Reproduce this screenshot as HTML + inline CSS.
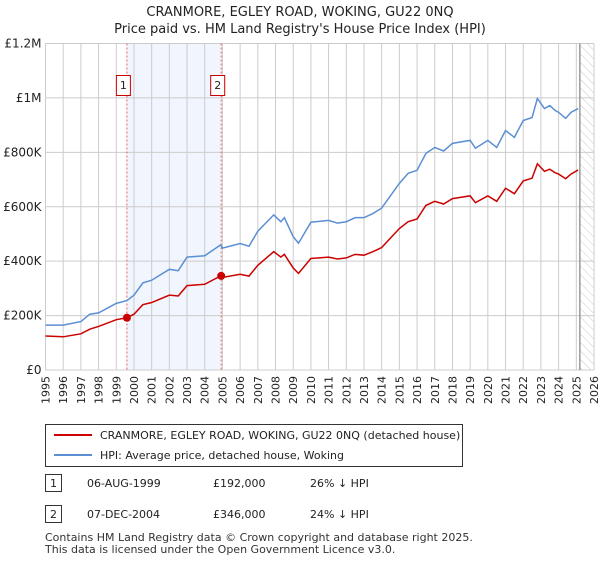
<!DOCTYPE html>
<html><head><meta charset="utf-8"><style>
body{margin:0;background:#fff;font-family:"Liberation Sans","DejaVu Sans",sans-serif;}
svg text{font-family:"DejaVu Sans","Liberation Sans",sans-serif;}
</style></head><body>
<svg width="600" height="560" viewBox="0 0 600 560">
<defs><pattern id="hatch" width="6" height="6" patternUnits="userSpaceOnUse" patternTransform="rotate(-45)"><line x1="0" y1="0" x2="0" y2="6" stroke="#ccc" stroke-width="1"/></pattern></defs>
<text x="300" y="16" text-anchor="middle" font-size="13" fill="#222">CRANMORE, EGLEY ROAD, WOKING, GU22 0NQ</text>
<text x="300" y="33" text-anchor="middle" font-size="13" fill="#222">Price paid vs. HM Land Registry's House Price Index (HPI)</text>
<g id="plot"></g>
<g>
<rect x="45.5" y="424.5" width="417" height="42" fill="#fff" stroke="#333"/>
<line x1="54" y1="435" x2="92" y2="435" stroke="#cc0000" stroke-width="2"/>
<text x="100" y="439" font-size="11" fill="#222">CRANMORE, EGLEY ROAD, WOKING, GU22 0NQ (detached house)</text>
<line x1="54" y1="455" x2="92" y2="455" stroke="#5b8fd4" stroke-width="2"/>
<text x="100" y="459" font-size="11" fill="#222">HPI: Average price, detached house, Woking</text>
</g>
<g font-size="11" fill="#222">
<rect x="45.5" y="474.5" width="16" height="17" fill="#fff" stroke="#333"/><text x="53.5" y="487" text-anchor="middle">1</text>
<text x="87" y="487">06-AUG-1999</text><text x="213" y="487">£192,000</text><text x="310" y="487">26% ↓ HPI</text>
<rect x="45.5" y="505.5" width="16" height="17" fill="#fff" stroke="#333"/><text x="53.5" y="518" text-anchor="middle">2</text>
<text x="87" y="518">07-DEC-2004</text><text x="213" y="518">£346,000</text><text x="310" y="518">24% ↓ HPI</text>
</g>
<text x="45" y="541" font-size="11" fill="#333">Contains HM Land Registry data © Crown copyright and database right 2025.</text>
<text x="45" y="553" font-size="11" fill="#333">This data is licensed under the Open Government Licence v3.0.</text>
</svg>
<script>
const hpiYears=[1995,1996,1997,1997.5,1998,1999,1999.6,2000,2000.5,2001,2002,2002.5,2003,2004,2004.9,2005,2006,2006.5,2007,2007.9,2008.3,2008.5,2009,2009.3,2010,2011,2011.5,2012,2012.5,2013,2013.5,2014,2015,2015.5,2016,2016.5,2017,2017.5,2018,2019,2019.3,2020,2020.5,2021,2021.5,2022,2022.5,2022.8,2023.2,2023.5,2023.8,2024,2024.4,2024.7,2025.1];
const hpiValues=[165,165,178,205,210,245,255,275,320,330,370,365,415,420,460,448,465,455,510,570,545,560,490,466,543,550,540,545,560,560,575,595,686,723,734,796,818,805,833,844,815,844,818,880,855,917,928,998,961,972,954,947,925,947,961];
const priceValues=[125,122,133,150,160,185,192,205,240,248,275,272,310,315,346,340,352,345,385,435,415,425,375,355,410,415,408,412,425,422,435,450,520,545,555,605,620,610,630,640,615,640,620,668,648,695,705,758,730,738,725,720,703,720,735];
const saleYears=[1999.6,2004.93];
const saleValues=[192,346];
const saleLabels=["1","2"];
const yTicks=[0,200,400,600,800,1000,1200];
const yTickLabels=["£0","£200K","£400K","£600K","£800K","£1M","£1.2M"];
const xTicks=[];for(let y=1995;y<=2026;y++)xTicks.push(y);
const X0=45.5,X1=594,Y0=370,Y1=43.5;
const xs=y=>X0+(y-1995)/(2026-1995)*(X1-X0);
const ys=v=>Y0-v/1200*(Y0-Y1);
const NS="http://www.w3.org/2000/svg";
const g=document.getElementById('plot');
function mk(t,a,p){const e=document.createElementNS(NS,t);for(const k in a)e.setAttribute(k,a[k]);(p||g).appendChild(e);return e;}
let e=mk('rect',{x:xs(saleYears[0]),y:Y1,width:xs(saleYears[1])-xs(saleYears[0]),height:Y0-Y1,fill:'#eef3fc',opacity:0.8});


e=mk('rect',{x:xs(2025.2),y:Y1,width:X1-xs(2025.2),height:Y0-Y1,fill:'url(#hatch)'});


xTicks.forEach(t=>{const l=mk('line',{x1:xs(t),x2:xs(t),y1:Y1,y2:Y0,stroke:'#ccc'});


const tx=mk('text',{x:0,y:0,'font-size':11,fill:'#222','text-anchor':'end',transform:`translate(${xs(t)+4},${Y0+6}) rotate(-90)`});tx.textContent=t;

});
yTicks.forEach((t,i)=>{const l=mk('line',{x1:X0,x2:X1,y1:ys(t),y2:ys(t),stroke:'#ccc'});


const tx=mk('text',{x:X0-4,y:ys(t)+4,'font-size':12,fill:'#222','text-anchor':'end'});tx.textContent=yTickLabels[i];

});
e=mk('line',{x1:xs(2025.2),x2:xs(2025.2),y1:Y1,y2:Y0,stroke:'#999','stroke-width':1.5});


saleYears.forEach((s,i)=>{const l=mk('line',{x1:xs(s),x2:xs(s),y1:Y1,y2:Y0,stroke:'#e06060','stroke-dasharray':'2,2'});


const r=mk('rect',{x:xs(s)-10.5,y:75.5,width:14,height:20,fill:'#fff',stroke:'#cc0000'});


const t=mk('text',{x:xs(s)-3.5,y:89,'font-size':11,fill:'#222','text-anchor':'middle'});t.textContent=saleLabels[i];

});
function line(vals,col,name){const p=mk('polyline',{points:hpiYears.map((y,i)=>xs(y)+','+ys(vals[i])).join(' '),fill:'none',stroke:col,'stroke-width':1.5});

}
line(hpiValues,'#5b8fd4','hpi-line');
line(priceValues,'#cc0000','price-line');
saleYears.forEach((s,i)=>{const c=mk('circle',{cx:xs(s),cy:ys(saleValues[i]),r:4,fill:'#cc0000'});

});
</script>
</body></html>
